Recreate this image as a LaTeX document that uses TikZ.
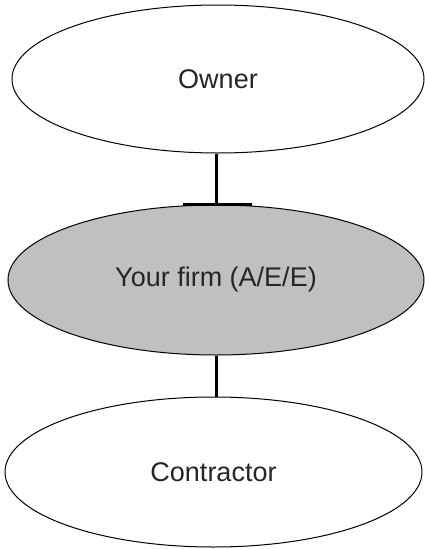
\documentclass[tikz,border=0pt]{standalone}
\usepackage{fontspec}
\setmainfont{Liberation Sans}
\usetikzlibrary{shapes.geometric}
\definecolor{firmgray}{RGB}{192,192,192}
\tikzset{
  oval/.style={ellipse, draw=black, line width=1pt, inner sep=0pt, fill=white,
    font=\fontsize{27}{32}\selectfont, text=black!85},
  conn/.style={draw=black, line width=3pt},
}
\begin{document}
\begin{tikzpicture}[x=1pt,y=-1pt]
\useasboundingbox (0,0) rectangle (425,549);
\node[oval, minimum width=412pt, minimum height=148pt] (owner) at (218,79) {Owner};
\node[oval, fill=firmgray, minimum width=416pt, minimum height=150pt] (firm) at (216,280) {Your firm (A/E/E)};
\node[oval, minimum width=417pt, minimum height=150pt] (contractor) at (213.5,472) {Contractor};
\draw[conn] (owner.south -| firm.north) -- (firm.north);
\draw[conn] ([xshift=-33pt]firm.north) -- ([xshift=36pt]firm.north);
\draw[conn] (firm.south) -- (contractor.north -| firm.south);
\end{tikzpicture}
\end{document}
